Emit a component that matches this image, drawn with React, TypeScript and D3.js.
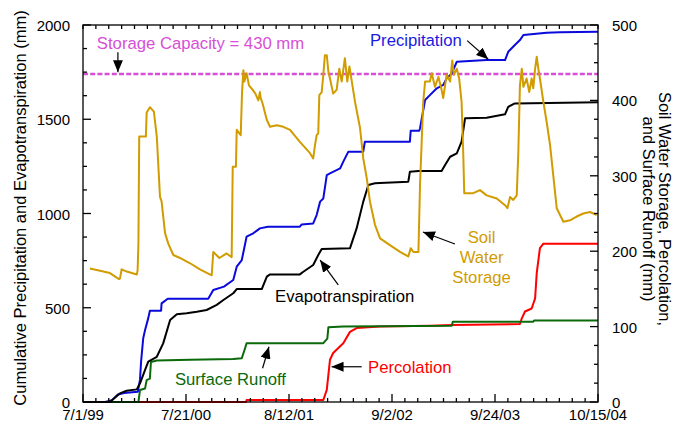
import React from 'react';
import * as d3 from 'd3';

// x values: days since 7/1/99
const precipDay = [0, 83, 109, 131, 154, 206, 214, 218, 226, 233, 245, 251, 293, 295, 318, 470, 489, 529, 564, 577, 596, 614, 639, 664, 694, 814, 821, 864, 877, 890, 902, 915, 927, 965, 977, 996, 1052, 1058, 1227, 1230, 1262, 1265, 1284, 1302, 1328, 1352, 1365, 1384, 1403, 1515, 1584, 1596, 1621, 1640, 1653, 1740, 1790, 1933];
const precipMm = [0, 0, 10, 40, 48, 55, 120, 214, 338, 382, 445, 484, 484, 523, 548, 548, 594, 612, 647, 718, 753, 877, 895, 921, 930, 930, 942, 947, 992, 1063, 1080, 1204, 1213, 1239, 1275, 1328, 1328, 1381, 1381, 1439, 1439, 1452, 1602, 1628, 1664, 1682, 1717, 1743, 1805, 1814, 1814, 1858, 1894, 1920, 1947, 1959, 1962, 1964];

const etDay = [0, 101, 139, 164, 202, 214, 233, 245, 277, 301, 327, 352, 389, 427, 464, 502, 527, 564, 577, 671, 690, 702, 814, 827, 864, 883, 896, 1002, 1027, 1052, 1071, 1096, 1115, 1221, 1227, 1259, 1346, 1359, 1378, 1403, 1421, 1434, 1515, 1584, 1596, 1621, 1933];
const etMm = [0, 0, 46, 60, 67, 99, 170, 214, 240, 311, 435, 465, 471, 479, 488, 515, 541, 577, 599, 599, 665, 677, 677, 691, 727, 780, 812, 815, 921, 1063, 1151, 1160, 1162, 1169, 1222, 1225, 1225, 1257, 1301, 1319, 1381, 1505, 1508, 1526, 1566, 1584, 1590];

const swsDay = [26, 64, 101, 135, 139, 145, 164, 202, 205, 208, 211, 236, 239, 251, 266, 277, 289, 295, 308, 320, 339, 364, 402, 439, 483, 489, 512, 539, 558, 562, 574, 577, 592, 597, 602, 606, 614, 623, 637, 647, 658, 664, 667, 674, 690, 702, 727, 752, 777, 814, 852, 864, 871, 877, 883, 887, 896, 902, 908, 915, 921, 927, 939, 952, 962, 971, 983, 992, 1000, 1009, 1021, 1040, 1052, 1065, 1077, 1096, 1115, 1152, 1190, 1221, 1230, 1240, 1259, 1265, 1277, 1284, 1302, 1309, 1321, 1334, 1346, 1352, 1365, 1378, 1386, 1392, 1403, 1412, 1421, 1427, 1431, 1465, 1490, 1515, 1553, 1584, 1593, 1603, 1615, 1628, 1634, 1640, 1647, 1653, 1665, 1675, 1684, 1690, 1697, 1703, 1709, 1715, 1728, 1740, 1753, 1765, 1778, 1803, 1828, 1853, 1878, 1903, 1928];
const swsMm = [177, 174, 171, 163, 164, 176, 173, 169, 175, 210, 352, 352, 384, 391, 385, 352, 272, 266, 224, 210, 195, 191, 184, 176, 168, 199, 191, 197, 192, 312, 312, 361, 354, 411, 440, 425, 436, 420, 414, 409, 400, 411, 403, 396, 374, 365, 367, 365, 361, 345, 330, 323, 341, 354, 356, 407, 411, 434, 460, 460, 438, 429, 409, 414, 442, 425, 456, 425, 445, 425, 398, 363, 323, 297, 266, 235, 217, 208, 199, 193, 204, 199, 199, 288, 398, 425, 425, 436, 418, 431, 414, 403, 434, 425, 453, 434, 442, 429, 398, 332, 277, 277, 281, 274, 270, 261, 257, 272, 268, 274, 332, 420, 442, 418, 429, 411, 429, 416, 442, 458, 442, 429, 398, 372, 341, 301, 257, 239, 241, 246, 250, 252, 248];

const percDay = [0, 612, 614, 902, 915, 927, 939, 977, 1002, 1027, 1115, 1302, 1384, 1640, 1647, 1659, 1684, 1697, 1703, 1715, 1728, 1933];
const percMm = [0, 0, 2.5, 2.6, 16, 56, 65, 78, 93, 98, 100, 101, 102, 103.4, 111, 120, 124, 137.5, 171, 204, 210, 210];

const runoffDay = [0, 208, 214, 233, 239, 251, 255, 277, 402, 564, 596, 608, 614, 902, 917, 921, 977, 1384, 1388, 1690, 1693, 1933];
const runoffMm = [0, 0, 16, 18, 29, 31, 53, 55, 56, 57, 58, 71, 78, 78, 84, 99, 100, 101, 106.5, 106.5, 108, 108];

const storageCapacityMm = 435;

const xTickLabels = ['7/1/99', '7/21/00', '8/12/01', '9/2/02', '9/24/03', '10/15/04'];
const totalDays = 1933;
const leftTicks = [0, 500, 1000, 1500, 2000];
const rightTicks = [0, 100, 200, 300, 400, 500];

const W = 673, H = 429;
const L = 83, R = 598, T = 25, B = 402;
const FONT = 'Liberation Sans, Arial, Helvetica, sans-serif';

const x = d3.scaleLinear().domain([0, totalDays]).range([L, R]);
const yL = d3.scaleLinear().domain([0, 2000]).range([B, T]);
const yR = d3.scaleLinear().domain([0, 500]).range([B, T]);

const zip = (a: number[], b: number[]) => a.map((d, i) => [d, b[i]] as [number, number]);

const lineL = d3.line<[number, number]>().x(d => x(d[0])).y(d => yL(d[1]));
const lineR = d3.line<[number, number]>().x(d => x(d[0])).y(d => yR(d[1]));

const COLORS = {
  precip: '#0a0adc',
  et: '#000000',
  sws: '#d19c00',
  perc: '#ff0000',
  runoff: '#0a6a0a',
  cap: '#d64fd6',
};

// annotations in (days, left-axis mm)
const annText = [
  { t: 'Storage Capacity = 430 mm', d: 52, v: 1873, c: COLORS.cap, a: 'start' },
  { t: 'Precipitation', d: 1077, v: 1889, c: '#1a1ae0', a: 'start' },
  { t: 'Evapotranspiration', d: 721, v: 530, c: '#000', a: 'start' },
  { t: 'Soil', d: 1496, v: 845, c: COLORS.sws, a: 'middle' },
  { t: 'Water', d: 1496, v: 737, c: COLORS.sws, a: 'middle' },
  { t: 'Storage', d: 1496, v: 631, c: COLORS.sws, a: 'middle' },
  { t: 'Surface Runoff', d: 345, v: 90, c: COLORS.runoff, a: 'start' },
  { t: 'Percolation', d: 1070, v: 152, c: COLORS.perc, a: 'start' },
];
const annArrows = [
  { d0: 131, v0: 1855, d1: 131, v1: 1750 },
  { d0: 1442, v0: 1917, d1: 1521, v1: 1818 },
  { d0: 958, v0: 621, d1: 890, v1: 753 },
  { d0: 1396, v0: 838, d1: 1276, v1: 902 },
  { d0: 674, v0: 179, d1: 698, v1: 293 },
  { d0: 1046, v0: 187, d1: 933, v1: 187 },
];

export default function App() {
  const leftMinor = d3.range(0, 2001, 125);
  const rightMinor = d3.range(0, 501, 25);
  const xMajor = xTickLabels.map((_, i) => (i * totalDays) / (xTickLabels.length - 1));
  const xMinor = d3.range(0, 41).map(i => (i * totalDays) / 40);

  return (
    <svg width={W} height={H} style={{ position: 'absolute', left: 0, top: 0, background: '#fff' }} fontFamily={FONT}>
      <defs>
        <marker id="ah" viewBox="0 0 12 10" refX="12" refY="5" markerWidth="12" markerHeight="10" markerUnits="userSpaceOnUse" orient="auto">
          <path d="M0,0 L12,5 L0,10 Z" fill="#000" />
        </marker>
      </defs>
      <rect x={0} y={0} width={W} height={H} fill="#fff" />

      {/* storage capacity line */}
      <line x1={L} x2={R} y1={yR(storageCapacityMm)} y2={yR(storageCapacityMm)} stroke={COLORS.cap} strokeWidth={2.6} strokeDasharray="5,2.2" />

      {/* series */}
      <path d={lineR(zip(percDay, percMm)) || ''} fill="none" stroke={COLORS.perc} strokeWidth={2} strokeLinejoin="round" />
      <path d={lineR(zip(runoffDay, runoffMm)) || ''} fill="none" stroke={COLORS.runoff} strokeWidth={2} strokeLinejoin="round" />
      <path d={lineL(zip(precipDay, precipMm)) || ''} fill="none" stroke={COLORS.precip} strokeWidth={2} strokeLinejoin="round" />
      <path d={lineL(zip(etDay, etMm)) || ''} fill="none" stroke={COLORS.et} strokeWidth={2} strokeLinejoin="round" />
      <path d={lineR(zip(swsDay, swsMm)) || ''} fill="none" stroke={COLORS.sws} strokeWidth={2} strokeLinejoin="round" />

      {/* frame */}
      <rect x={L} y={T} width={R - L} height={B - T} fill="none" stroke="#000" strokeWidth={1.3} />

      {/* left ticks */}
      {leftMinor.map(v => (
        <line key={'lt' + v} x1={L} x2={L + (v % 500 === 0 ? 8 : 4)} y1={yL(v)} y2={yL(v)} stroke="#000" strokeWidth={1.3} />
      ))}
      {leftTicks.map(v => (
        <text key={'ll' + v} x={70} y={yL(v)} dy="0.4em" textAnchor="end" fontSize={15} fill="#000">{v}</text>
      ))}
      {/* right ticks */}
      {rightMinor.map(v => (
        <line key={'rt' + v} x1={R} x2={R - (v % 100 === 0 ? 8 : 4)} y1={yR(v)} y2={yR(v)} stroke="#000" strokeWidth={1.3} />
      ))}
      {rightTicks.map(v => (
        <text key={'rl' + v} x={612} y={yR(v)} dy="0.4em" textAnchor="start" fontSize={15} fill="#000">{v}</text>
      ))}
      {/* bottom & top ticks */}
      {xMinor.map((d, i) => (
        <g key={'xt' + i}>
          <line x1={x(d)} x2={x(d)} y1={B} y2={B - (i % 8 === 0 ? 8 : 4)} stroke="#000" strokeWidth={1.3} />
          <line x1={x(d)} x2={x(d)} y1={T} y2={T + 4} stroke="#000" strokeWidth={1.3} />
        </g>
      ))}
      {xMajor.map((d, i) => (
        <text key={'xl' + i} x={x(d)} y={420} textAnchor="middle" fontSize={15} fill="#000">{xTickLabels[i]}</text>
      ))}

      {/* axis titles */}
      <text transform={`translate(20,208) rotate(-90)`} textAnchor="middle" dominantBaseline="central" fontSize={16.5} fill="#000">
        Cumulative Precipitation and Evapotranspiration (mm)
      </text>
      <text transform={`translate(665,209) rotate(90)`} textAnchor="middle" dominantBaseline="central" fontSize={16.5} fill="#000">
        Soil Water Storage, Percolation,
      </text>
      <text transform={`translate(649,209) rotate(90)`} textAnchor="middle" dominantBaseline="central" fontSize={16.5} fill="#000">
        and Surface Runoff (mm)
      </text>

      {/* annotations */}
      {annArrows.map((a, i) => (
        <line key={'aa' + i} x1={x(a.d0)} y1={yL(a.v0)} x2={x(a.d1)} y2={yL(a.v1)} stroke="#000" strokeWidth={1.2} markerEnd="url(#ah)" />
      ))}
      {annText.map((a, i) => (
        <text key={'at' + i} x={x(a.d)} y={yL(a.v)} textAnchor={a.a as any} fontSize={16.7} fill={a.c}>{a.t}</text>
      ))}
    </svg>
  );
}
